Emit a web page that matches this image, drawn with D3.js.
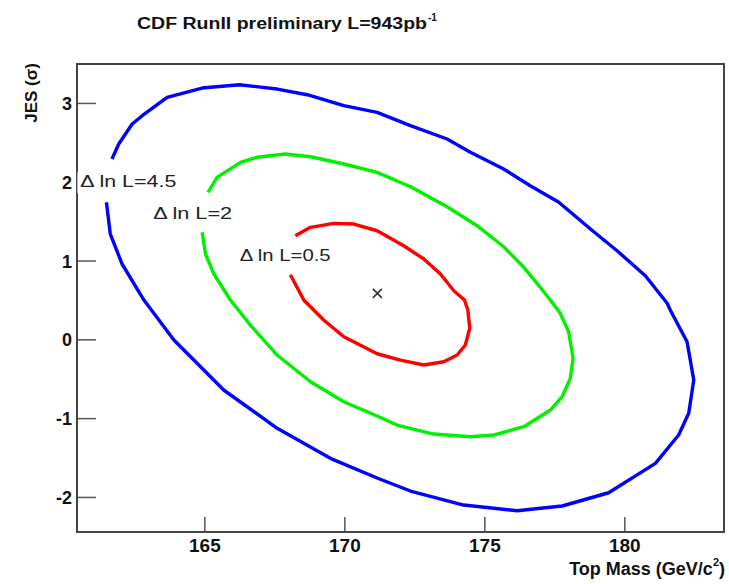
<!DOCTYPE html>
<html>
<head>
<meta charset="utf-8">
<script src="https://cdn.jsdelivr.net/npm/d3@7"></script>
<style>
  html, body { margin: 0; padding: 0; background: #fff; }
  svg { display: block; font-family: "Liberation Sans", Arial, Helvetica, sans-serif; }
</style>
</head>
<body>
<svg id="chart" width="729" height="584"></svg>
<script>
// Axis ticks
const massTicks = [165, 170, 175, 180];
const jesTicks = [-2, -1, 0, 1, 2, 3];

// Likelihood contour levels (Δ ln L)
const levelNames = ["4.5", "2", "0.5"];
const levelColors = ["#0000ff", "#00f000", "#ff0000"];

// Contour traces: [top mass (GeV/c^2), JES (σ)], open where the level label sits
const contour45 = [
  [161.70, 2.288], [161.94, 2.478], [162.42, 2.732], [162.78, 2.838], [163.67, 3.071],
  [164.92, 3.189], [166.25, 3.231], [167.60, 3.176], [168.67, 3.104], [169.98, 2.965],
  [171.17, 2.881], [172.36, 2.711], [173.67, 2.542], [174.50, 2.373], [175.69, 2.161],
  [176.64, 1.949], [177.66, 1.739], [178.79, 1.400], [179.74, 1.124], [180.75, 0.807],
  [181.53, 0.457], [181.64, 0.372], [182.24, -0.030], [182.48, -0.517], [182.30, -0.939],
  [181.94, -1.214], [181.11, -1.574], [179.44, -1.947], [177.78, -2.115], [176.17, -2.175],
  [174.26, -2.103], [172.36, -1.925], [171.17, -1.760], [169.50, -1.510], [167.60, -1.129],
  [165.69, -0.643], [164.98, -0.390], [163.91, -0.009], [162.84, 0.499], [162.06, 0.956],
  [161.64, 1.336], [161.50, 1.739]
];
const contour20 = [
  [165.13, 1.865], [165.45, 2.056], [166.29, 2.246], [166.88, 2.310], [167.89, 2.352],
  [168.79, 2.317], [169.98, 2.225], [171.17, 2.119], [172.36, 1.937], [173.67, 1.683],
  [174.74, 1.442], [175.69, 1.175], [176.41, 0.914], [177.00, 0.660], [177.36, 0.499],
  [177.71, 0.330], [178.01, 0.096], [178.17, -0.241], [178.07, -0.495], [177.78, -0.728],
  [177.36, -0.897], [176.41, -1.109], [175.34, -1.214], [174.50, -1.236], [173.19, -1.202],
  [171.88, -1.088], [171.17, -0.973], [169.98, -0.792], [168.79, -0.538], [167.60, -0.199],
  [166.64, 0.181], [165.93, 0.499], [165.34, 0.829], [165.04, 1.083], [164.92, 1.358]
];
const contour05 = [
  [168.25, 1.315], [168.79, 1.421], [169.62, 1.472], [170.34, 1.463], [171.17, 1.378],
  [172.12, 1.188], [172.84, 1.019], [173.43, 0.829], [173.91, 0.617], [174.29, 0.499],
  [174.41, 0.372], [174.48, 0.140], [174.32, -0.072], [174.03, -0.199], [173.55, -0.284],
  [172.84, -0.326], [172.00, -0.263], [171.17, -0.183], [169.98, 0.033], [169.26, 0.245],
  [168.55, 0.499], [168.31, 0.660], [168.07, 0.820]
];

// Likelihood maximum
const bestFit = [171.18, 0.584];

const svg = d3.select("#chart");
const frame = { left: 77, top: 64, right: 724, bottom: 532 };

const x = d3.scaleLinear().domain([160.45, 183.56]).range([frame.left, frame.right]);
const y = d3.scaleLinear().domain([-2.445, 3.494]).range([frame.bottom, frame.top]);

// Title
const title = svg.append("text")
  .attr("x", 137).attr("y", 29)
  .attr("font-size", 16).attr("font-weight", "bold").attr("fill", "#111");
title.append("tspan").text("CDF RunII preliminary L=943pb")
  .attr("textLength", 290).attr("lengthAdjust", "spacingAndGlyphs");
title.append("tspan").text("-1").attr("font-size", 10).attr("dy", -8).attr("dx", 1);

// Axes (ticks point into the frame)
const plain = d => String(d);
const xAxis = svg.append("g")
  .attr("transform", `translate(0,${frame.bottom})`)
  .call(d3.axisBottom(x).tickValues(massTicks).tickFormat(plain)
    .tickSizeInner(-15).tickSizeOuter(0).tickPadding(7));
const yAxis = svg.append("g")
  .attr("transform", `translate(${frame.left},0)`)
  .call(d3.axisLeft(y).tickValues(jesTicks).tickFormat(plain)
    .tickSizeInner(-19).tickSizeOuter(0).tickPadding(5));
[xAxis, yAxis].forEach(g => {
  g.select(".domain").remove();
  g.selectAll(".tick line").attr("stroke", "#555").attr("stroke-width", 1.5);
  g.selectAll(".tick text").attr("fill", "#111").attr("font-weight", "bold")
    .attr("font-family", "Liberation Sans, Arial, sans-serif");
});
xAxis.selectAll(".tick text").attr("font-size", 19);
yAxis.selectAll(".tick text").attr("font-size", 18).attr("dy", "0.36em");

// Frame
svg.append("rect")
  .attr("x", frame.left).attr("y", frame.top)
  .attr("width", frame.right - frame.left).attr("height", frame.bottom - frame.top)
  .attr("fill", "none").attr("stroke", "#444").attr("stroke-width", 2);

// Axis titles
const xTitle = svg.append("text")
  .attr("x", 725).attr("y", 575).attr("text-anchor", "end")
  .attr("font-size", 18).attr("font-weight", "bold").attr("fill", "#111");
xTitle.append("tspan").text("Top Mass (GeV/c");
xTitle.append("tspan").text("2").attr("font-size", 11).attr("dy", -9);
xTitle.append("tspan").text(")").attr("dy", 9);

svg.append("text")
  .attr("transform", "translate(37,63) rotate(-90)")
  .attr("text-anchor", "end")
  .attr("font-size", 17).attr("font-weight", "bold").attr("fill", "#111")
  .text("JES (σ)");

// Contours
const line = d3.line().x(d => x(d[0])).y(d => y(d[1]));
const contours = [contour45, contour20, contour05];
svg.append("g").selectAll("path")
  .data(contours)
  .join("path")
  .attr("d", line)
  .attr("fill", "none")
  .attr("stroke", (d, i) => levelColors[i])
  .attr("stroke-width", 3.4)
  .attr("stroke-linejoin", "round");

// Level labels on white boxes
const labelAnchors = [[160.57, 1.929, 96], [163.17, 1.527, 79], [166.26, 0.997, 91]];
const labels = svg.append("g").selectAll("g")
  .data(levelNames)
  .join("g")
  .attr("transform", (d, i) => `translate(${x(labelAnchors[i][0])},${y(labelAnchors[i][1])})`);
labels.append("rect")
  .attr("x", -3).attr("y", -15)
  .attr("width", (d, i) => labelAnchors[i][2] + 5).attr("height", 21)
  .attr("fill", "#fff");
labels.append("text")
  .attr("textLength", (d, i) => labelAnchors[i][2])
  .attr("lengthAdjust", "spacingAndGlyphs")
  .attr("font-size", 17).attr("fill", "#222")
  .text(d => `Δ ln L=${d}`);

// Best-fit marker
const mx = x(bestFit[0]), my = y(bestFit[1]), arm = 4.5;
svg.append("path")
  .attr("d", `M${mx - arm},${my - arm}L${mx + arm},${my + arm}M${mx - arm},${my + arm}L${mx + arm},${my - arm}`)
  .attr("stroke", "#333").attr("stroke-width", 1.6);
</script>
</body>
</html>
